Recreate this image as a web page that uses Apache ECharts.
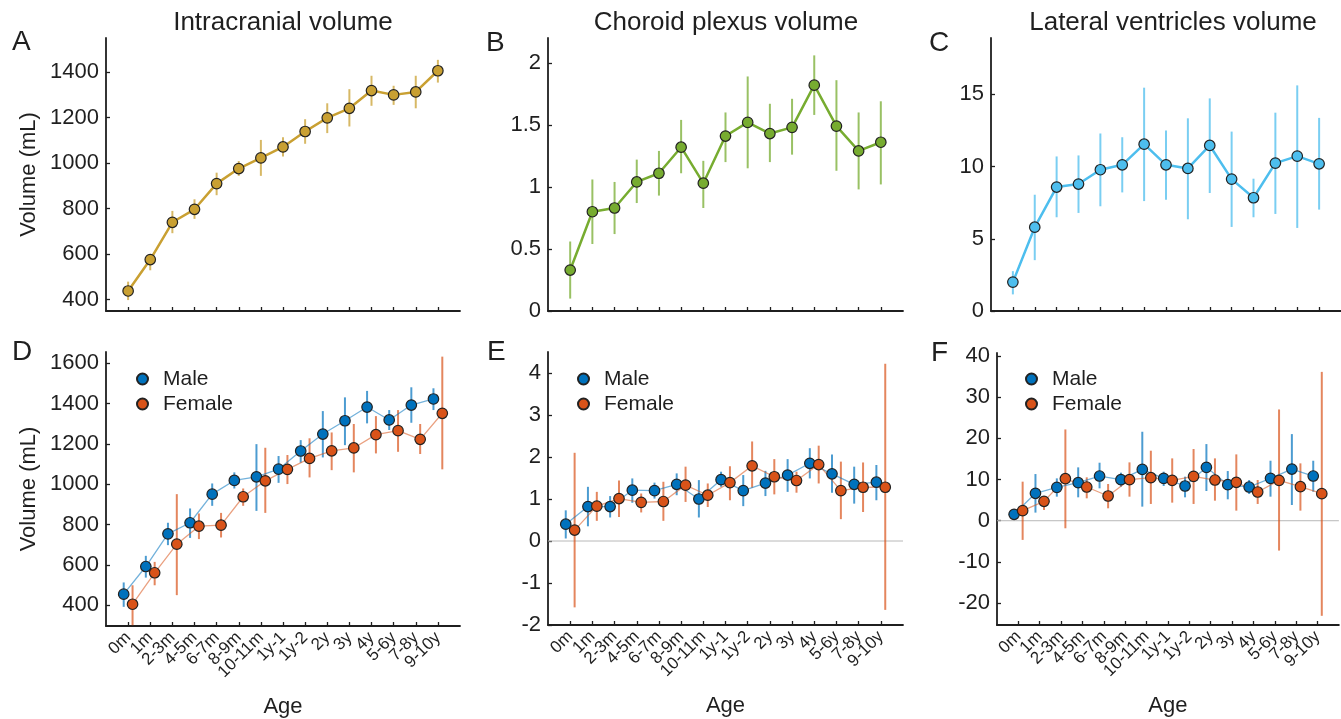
<!DOCTYPE html>
<html>
<head>
<meta charset="utf-8">
<script src="https://cdn.jsdelivr.net/npm/echarts@6/dist/echarts.min.js"></script>
<style>
html,body{margin:0;padding:0;background:#fff;}
#chart{width:1341px;height:719px;}
</style>
</head>
<body>
<div id="chart"></div>
<script>
// ---------- data ----------
const ages = ['0m','1m','2-3m','4-5m','6-7m','8-9m','10-11m','1y-1','1y-2','2y','3y','4y','5-6y','7-8y','9-10y'];

const icvMean = [438,576,740,797,910,976,1023,1071,1139,1199,1241,1319,1300,1313,1406];
const icvLow  = [398,529,692,755,859,944,944,1029,1085,1132,1161,1252,1256,1241,1354];
const icvHigh = [479,599,790,841,958,1009,1102,1114,1193,1263,1325,1384,1340,1384,1454];

const cpMean = [0.33,0.80,0.83,1.04,1.11,1.32,1.03,1.41,1.52,1.43,1.48,1.82,1.49,1.29,1.36];
const cpLow  = [0.10,0.54,0.62,0.87,0.93,1.11,0.83,1.20,1.15,1.20,1.26,1.58,1.13,0.98,1.02];
const cpHigh = [0.56,1.06,1.04,1.22,1.29,1.54,1.21,1.60,1.89,1.67,1.71,2.06,1.86,1.60,1.69];

const lvMean = [2.00,5.80,8.58,8.79,9.78,10.12,11.55,10.12,9.87,11.46,9.13,7.84,10.24,10.72,10.19];
const lvLow  = [1.15,3.52,6.49,6.79,7.25,8.21,7.61,7.71,6.35,8.17,5.82,6.49,6.72,5.75,7.02];
const lvHigh = [2.76,8.05,10.70,10.77,12.29,12.03,15.46,12.49,13.34,14.72,12.42,9.16,13.73,15.62,13.37];

const icvMaleMean = [455,592,754,809,951,1019,1037,1075,1165,1249,1315,1383,1319,1393,1423];
const icvMaleLow  = [392,537,698,734,893,979,868,1007,1107,1133,1194,1302,1269,1305,1368];
const icvMaleHigh = [513,645,809,880,1004,1059,1199,1140,1219,1363,1431,1463,1368,1481,1476];
const icvFemaleMean = [405,561,703,792,797,938,1017,1074,1128,1166,1180,1246,1266,1223,1352];
const icvFemaleLow  = [301,499,450,728,736,893,858,1001,1034,1070,1059,1153,1161,1150,1074];
const icvFemaleHigh = [499,615,951,855,858,979,1181,1145,1228,1257,1299,1338,1368,1299,1633];

const cpMaleMean = [0.40,0.82,0.82,1.21,1.20,1.35,1.00,1.46,1.20,1.38,1.57,1.85,1.60,1.35,1.40];
const cpMaleLow  = [0.06,0.35,0.56,0.91,1.01,1.09,0.56,1.29,0.83,1.07,1.17,1.49,1.15,0.89,0.97];
const cpMaleHigh = [0.73,1.29,1.07,1.49,1.39,1.61,1.45,1.65,1.57,1.67,1.95,2.21,2.06,1.77,1.81];
const cpFemaleMean = [0.26,0.83,1.01,0.92,0.94,1.33,1.09,1.39,1.79,1.53,1.44,1.82,1.20,1.28,1.28];
const cpFemaleLow  = [-1.58,0.48,0.57,0.68,0.48,0.93,0.81,0.97,1.27,1.11,1.15,1.37,0.52,0.69,-1.64];
const cpFemaleHigh = [2.10,1.17,1.44,1.13,1.41,1.77,1.37,1.78,2.37,1.95,1.65,2.27,1.89,1.87,4.22];

const lvMaleMean = [1.56,6.65,8.10,9.23,10.85,9.96,12.46,10.28,8.43,12.95,8.75,8.18,10.28,12.54,10.85];
const lvMaleLow  = [0.8,1.97,5.84,5.68,7.86,8.26,3.42,8.43,5.68,7.22,5.20,6.49,5.84,3.82,7.05];
const lvMaleHigh = [2.3,11.33,10.28,12.95,14.08,11.66,21.59,11.90,10.69,18.60,12.06,9.88,14.56,21.02,14.56];
const lvFemaleMean = [2.45,4.71,10.20,8.18,6.00,9.96,10.45,9.80,10.77,9.88,9.32,6.97,9.80,8.26,6.57];
const lvFemaleLow  = [-4.65,2.61,-1.83,5.44,3.02,5.84,4.07,4.39,4.07,4.87,2.45,4.07,-7.24,2.45,-23.07];
const lvFemaleHigh = [9.48,5.84,22.15,10.53,8.91,14.16,16.99,15.13,17.40,15.13,16.10,9.88,27.0,13.92,36.12];

const ticksA = [400,600,800,1000,1200,1400];
const ticksB = [0,0.5,1,1.5,2];
const ticksC = [0,5,10,15];
const ticksD = [400,600,800,1000,1200,1400,1600];
const ticksE = [-2,-1,0,1,2,3,4];
const ticksF = [-20,-10,0,10,20,30,40];

const titles = ['Intracranial volume','Choroid plexus volume','Lateral ventricles volume'];
const letters = ['A','B','C','D','E','F'];

// ---------- styling / layout ----------
const FONT = 'Liberation Sans, Arial, Helvetica, sans-serif';
const INK = '#1f1f1f';
const GOLD = '#C9A032', GREEN = '#77AC30', LBLUE = '#4DBEEE';
const MALE = '#0072BD', FEMALE = '#D95319';

const panels = [
  {grid:{left:106,top:38,width:354,height:273}, min:350, max:1550, ticks:ticksA, yname:'Volume (mL)', xlabels:false},
  {grid:{left:548,top:38,width:355,height:273}, min:0, max:2.2, ticks:ticksB, yname:'', xlabels:false},
  {grid:{left:991,top:38,width:354,height:273}, min:0, max:18.9, ticks:ticksC, yname:'', xlabels:false},
  {grid:{left:106,top:352,width:354,height:274}, min:297, max:1656, ticks:ticksD, yname:'Volume (mL)', xlabels:true},
  {grid:{left:548,top:352,width:355,height:273}, min:-2, max:4.5, ticks:ticksE, yname:'', xlabels:true},
  {grid:{left:997,top:353,width:354,height:272}, min:-25.3, max:40.7, ticks:ticksF, yname:'', xlabels:true}
];

const catPos = ages.map((_, i) => i + 1);
const labelCats = [''].concat(ages, ['']);   // category axis used only for the tick labels

const grids = panels.map(p => Object.assign({containLabel:false}, p.grid));
const xAxes = [];
panels.forEach((p, i) => {
  // value axis carrying the data (positions 1..15 within 0..16)
  xAxes.push({
    type:'value', gridIndex:i, min:0, max:16, position:'bottom', offset:0,
    axisLine:{onZero:false, lineStyle:{color:INK, width:1.8}},
    axisTick:{inside:true, length:4, customValues:catPos, lineStyle:{color:INK, width:1.3}},
    axisLabel:{show:false},
    splitLine:{show:false}
  });
});
panels.forEach((p, i) => {
  // category axis overlay for the rotated age labels
  xAxes.push({
    type:'category', gridIndex:i, data:labelCats, boundaryGap:false, position:'bottom', offset:0,
    show:p.xlabels,
    name: p.xlabels ? 'Age' : '', nameLocation:'middle', nameGap:70,
    nameTextStyle:{fontFamily:FONT, fontSize:22, color:INK},
    axisLine:{show:false, onZero:false}, axisTick:{show:false},
    axisLabel:{show:p.xlabels, interval:0, rotate:45, margin:9,
      fontFamily:FONT, fontSize:17, color:INK},
    splitLine:{show:false}
  });
});
const yAxes = panels.map((p, i) => ({
  type:'value', gridIndex:i, min:p.min, max:p.max,
  name:p.yname, nameLocation:'middle', nameGap:66,
  nameTextStyle:{fontFamily:FONT, fontSize:22, color:INK},
  axisLine:{onZero:false, lineStyle:{color:INK, width:1.8}},
  axisTick:{inside:true, length:4, customValues:p.ticks, lineStyle:{color:INK, width:1.3}},
  axisLabel:{customValues:p.ticks, margin:7, fontFamily:FONT, fontSize:22, color:INK,
    showMinLabel:true, showMaxLabel:true, formatter: v => String(v)},
  splitLine:{show:false}
}));

function errSeries(idx, name, offset, low, high, color, opacity) {
  return {
    type:'custom', name:name, xAxisIndex:idx, yAxisIndex:idx, z:1, clip:true,
    data: low.map((l, i) => [i + 1 + offset, l, high[i]]),
    encode:{x:0, y:[1,2]},
    renderItem:(params, api) => {
      const x = api.value(0);
      const a = api.coord([x, api.value(1)]);
      const b = api.coord([x, api.value(2)]);
      return {type:'line', shape:{x1:a[0], y1:a[1], x2:b[0], y2:b[1]},
              style:{stroke:color, lineWidth:2, opacity:opacity}};
    },
    silent:true
  };
}
function lineSeries(idx, name, offset, mean, color, lineOpacity, lineWidth) {
  return {
    type:'line', name:name, xAxisIndex:idx, yAxisIndex:idx, z:3,
    data: mean.map((m, i) => [i + 1 + offset, m]),
    symbol:'circle', symbolSize:10.5, showSymbol:true,
    itemStyle:{color:color, borderColor:'#222', borderWidth:1.2},
    lineStyle:{color:color, width:lineWidth, opacity:lineOpacity},
    emphasis:{disabled:true}, animation:false
  };
}
function zeroLine(idx) {
  return {
    type:'line', name:'zero', xAxisIndex:idx, yAxisIndex:idx, z:0,
    data:[[0,0],[16,0]], symbol:'none',
    lineStyle:{color:'#b8b8b8', width:1}, silent:true, animation:false
  };
}

const OFF = 0.2;
const series = [
  errSeries(0, 'icvErr', 0, icvLow, icvHigh, GOLD, 0.75),
  lineSeries(0, 'ICV', 0, icvMean, GOLD, 1, 2.5),
  errSeries(1, 'cpErr', 0, cpLow, cpHigh, GREEN, 0.75),
  lineSeries(1, 'CP', 0, cpMean, GREEN, 1, 2.5),
  errSeries(2, 'lvErr', 0, lvLow, lvHigh, LBLUE, 0.75),
  lineSeries(2, 'LV', 0, lvMean, LBLUE, 1, 2.5),

  errSeries(3, 'mErrD', -OFF, icvMaleLow, icvMaleHigh, MALE, 0.7),
  errSeries(3, 'fErrD', OFF, icvFemaleLow, icvFemaleHigh, FEMALE, 0.7),
  lineSeries(3, 'Male', -OFF, icvMaleMean, MALE, 0.55, 1.3),
  lineSeries(3, 'Female', OFF, icvFemaleMean, FEMALE, 0.55, 1.3),

  zeroLine(4),
  errSeries(4, 'mErrE', -OFF, cpMaleLow, cpMaleHigh, MALE, 0.7),
  errSeries(4, 'fErrE', OFF, cpFemaleLow, cpFemaleHigh, FEMALE, 0.7),
  lineSeries(4, 'Male', -OFF, cpMaleMean, MALE, 0.55, 1.3),
  lineSeries(4, 'Female', OFF, cpFemaleMean, FEMALE, 0.55, 1.3),

  zeroLine(5),
  errSeries(5, 'mErrF', -OFF, lvMaleLow, lvMaleHigh, MALE, 0.7),
  errSeries(5, 'fErrF', OFF, lvFemaleLow, lvFemaleHigh, FEMALE, 0.7),
  lineSeries(5, 'Male', -OFF, lvMaleMean, MALE, 0.55, 1.3),
  lineSeries(5, 'Female', OFF, lvFemaleMean, FEMALE, 0.55, 1.3)
];

const legendPos = [{left:131, top:363}, {left:572, top:363}, {left:1020, top:363}];
const legends = legendPos.map(lp => ({
  data:['Male','Female'], orient:'vertical', left:lp.left, top:lp.top,
  icon:'circle', itemWidth:11, itemHeight:11, itemGap:3,
  textStyle:{fontFamily:FONT, fontSize:21, color:INK, lineHeight:22, padding:[0,0,0,10]},
  selectedMode:false
}));

const titlePos = [283, 726, 1173];
const letterPos = [[12,42],[486,43],[929,43],[12,352],[487,352],[931,353]];
const graphics = [];
titles.forEach((t, i) => graphics.push({type:'text', x:titlePos[i], y:23,
  style:{text:t, fontFamily:FONT, fontSize:26, fill:INK, textAlign:'center', textVerticalAlign:'middle'}}));
letters.forEach((t, i) => graphics.push({type:'text', x:letterPos[i][0], y:letterPos[i][1],
  style:{text:t, fontFamily:FONT, fontSize:28, fill:INK, textAlign:'left', textVerticalAlign:'middle'}}));

const chart = echarts.init(document.getElementById('chart'), null, {renderer:'canvas'});
chart.setOption({
  animation:false,
  backgroundColor:'#fff',
  grid:grids, xAxis:xAxes, yAxis:yAxes,
  legend:legends,
  series:series,
  graphic:graphics
});
</script>
</body>
</html>
